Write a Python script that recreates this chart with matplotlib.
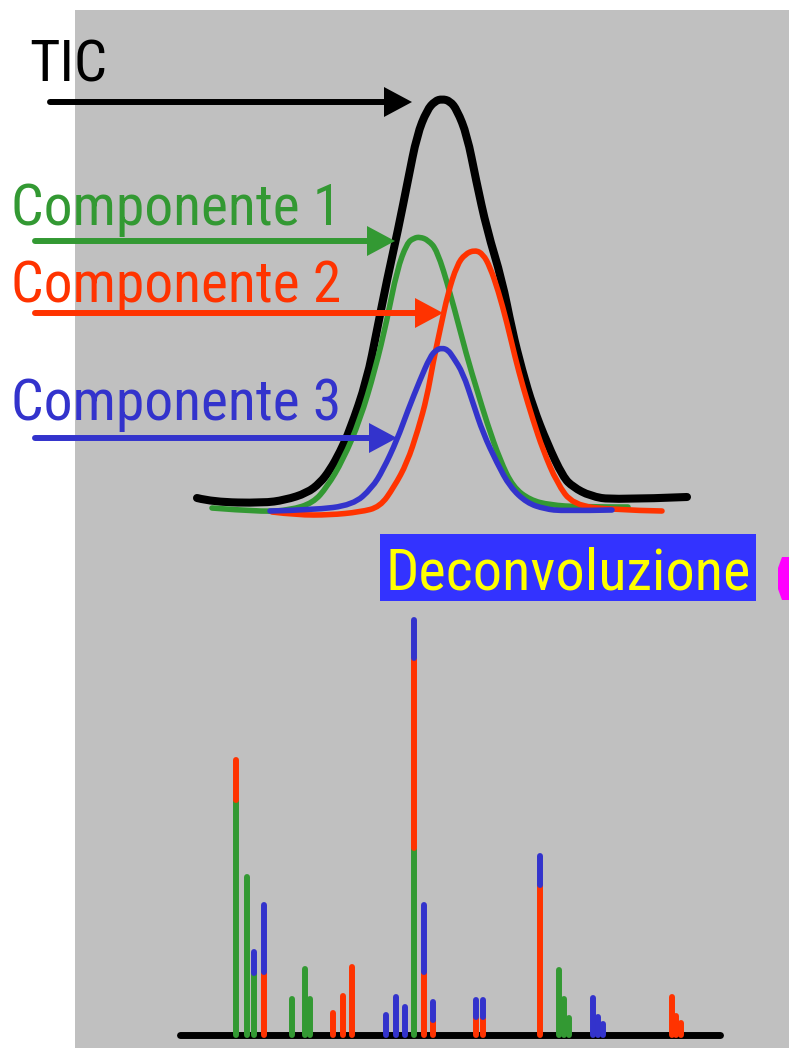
import matplotlib
matplotlib.use("Agg")
import matplotlib.pyplot as plt
from matplotlib.patches import Rectangle, Polygon, PathPatch
from matplotlib.path import Path
from matplotlib import font_manager

# ---------------- data ----------------
# chromatogram (retention time, signal)
t_tic = [197, 213, 263, 285, 307, 320, 330, 340, 350, 367, 377, 387, 398, 408, 417, 427, 435, 442, 450,
         457, 467, 476, 487, 502, 512, 522, 533, 547, 563, 573, 590, 613, 687]
s_tic = [550, 546, 545, 548, 555, 565, 578, 596, 618, 668, 718, 768, 818, 868, 913, 938, 947, 949, 947,
         938, 913, 868, 818, 768, 718, 678, 641, 605, 571, 561, 552, 548, 551]

t_c1 = [212, 263, 290, 313, 327, 343, 360, 375, 387, 397, 407, 414, 420, 428, 437, 450, 467, 477, 487,
        500, 513, 530, 550, 580, 628]
s_c1 = [540, 536, 538, 545, 561, 588, 628, 678, 728, 778, 805, 810, 811, 808, 798, 756, 691, 658, 625,
        588, 561, 548, 543, 541, 541]

t_c2 = [272, 297, 330, 360, 380, 394, 407, 418, 427, 433, 440, 448, 457, 465, 475, 483, 490, 498, 507,
        515, 523, 533, 543, 557, 573, 613, 662]
s_c2 = [536, 533, 533, 536, 541, 561, 585, 618, 651, 685, 718, 755, 783, 794, 798, 794, 781, 758, 725,
        691, 661, 628, 598, 565, 543, 538, 537]

t_c3 = [270, 313, 353, 372, 383, 397, 408, 420, 430, 436, 442, 448, 453, 463, 473, 483, 497, 510, 527,
        545, 563, 612]
s_c3 = [537, 538, 543, 560, 578, 608, 638, 668, 691, 698, 700, 698, 691, 675, 645, 615, 585, 561, 545,
        539, 537, 538]

# deconvoluted mass spectrum (m/z, intensity of each component)
mz = [236, 247, 254, 264, 292, 305, 310, 333, 343, 352, 386, 396, 405, 414, 424, 433, 476, 483,
      540, 559, 564, 569, 593, 598, 603, 672, 676, 681]
c1 = [235, 158, 62, 0, 36, 66, 36, 0, 0, 0, 0, 0, 0, 187, 0, 0, 0, 0,
      0, 65, 36, 17, 0, 0, 0, 0, 0, 0]
c2 = [40, 0, 0, 63, 0, 0, 0, 22, 39, 68, 0, 0, 0, 190, 63, 15, 18, 18,
      150, 0, 0, 0, 0, 0, 0, 38, 19, 12]
c3 = [0, 0, 21, 67, 0, 0, 0, 0, 0, 0, 20, 38, 28, 38, 67, 18, 17, 17,
      29, 0, 0, 0, 37, 18, 11, 0, 0, 0]

labels = ["TIC", "Componente 1", "Componente 2", "Componente 3"]
title_box = "Deconvoluzione"

# ---------------- style ----------------
BLACK = "#000000"
GREEN = "#339933"
RED = "#ff3300"
BLUE = "#3333cc"
BOX = "#3333ff"
YELLOW = "#ffff00"
GRAY = "#c0c0c0"
MAGENTA = "#ff00ff"

avail = {f.name for f in font_manager.fontManager.ttflist}
FAM = [f for f in ["Roboto Condensed", "Liberation Sans Narrow", "Liberation Sans", "DejaVu Sans"]
       if f in avail]

W, H = 789, 1048
fig = plt.figure(figsize=(W / 100, H / 100), dpi=100)
ax = fig.add_axes([0, 0, 1, 1])
ax.set_xlim(0, W)
ax.set_ylim(0, H)
ax.axis("off")


def Y(p):
    return H - p


ax.add_patch(Rectangle((75, 0), W - 75, Y(10), color=GRAY, zorder=0, lw=0))


def smooth_curve(axis, xs, ys, col, lw, z):
    pts = list(zip(xs, ys))
    verts = [pts[0]]
    codes = [Path.MOVETO]
    for i in range(1, len(pts) - 1):
        mid = ((pts[i][0] + pts[i + 1][0]) / 2, (pts[i][1] + pts[i + 1][1]) / 2)
        if i == len(pts) - 2:
            mid = pts[-1]
        verts += [pts[i], mid]
        codes += [Path.CURVE3, Path.CURVE3]
    axis.add_patch(PathPatch(Path(verts, codes), fill=False, edgecolor=col, lw=lw,
                             capstyle="round", joinstyle="round", zorder=z))


smooth_curve(ax, t_tic, s_tic, BLACK, 5.8, 2)
smooth_curve(ax, t_c1, s_c1, GREEN, 4.0, 3)
smooth_curve(ax, t_c2, s_c2, RED, 4.0, 3)
smooth_curve(ax, t_c3, s_c3, BLUE, 4.0, 4)


def arrow(x0, x1, yp, col):
    base = x1 - 28
    ax.plot([x0, base + 2], [Y(yp), Y(yp)], color=col, lw=4.3, solid_capstyle="round", zorder=5)
    ax.add_patch(Polygon([(base, Y(yp - 15)), (x1, Y(yp)), (base, Y(yp + 15))],
                         closed=True, color=col, lw=0, zorder=5))


arrow(50, 412, 102, BLACK)
arrow(35, 395, 241, GREEN)
arrow(35, 443, 313, RED)
arrow(35, 397, 438, BLUE)

ax.text(29, Y(82), labels[0], color=BLACK, fontsize=42, family=FAM, va="baseline", ha="left", zorder=6)
ax.text(11, Y(225), labels[1], color=GREEN, fontsize=41.5, family=FAM, va="baseline", ha="left", zorder=6)
ax.text(11, Y(302), labels[2], color=RED, fontsize=41.5, family=FAM, va="baseline", ha="left", zorder=6)
ax.text(11, Y(420), labels[3], color=BLUE, fontsize=41.5, family=FAM, va="baseline", ha="left", zorder=6)

ax.add_patch(Rectangle((380, Y(601)), 376, 67, color=BOX, lw=0, zorder=6))
ax.text(386, Y(589), title_box, color=YELLOW, fontsize=42, family=FAM, va="baseline", ha="left", zorder=7)

ax.add_patch(Polygon([(778, Y(568)), (782, Y(557)), (789, Y(557)), (789, Y(600)), (782, Y(600)),
                      (778, Y(589))], closed=True, color=MAGENTA, lw=0, zorder=6))

# mass spectrum
ax2 = fig.add_axes([0, 0, 1, 1])
ax2.set_xlim(0, W)
ax2.set_ylim(-(H - 1035), 1035)
ax2.axis("off")
ax2.patch.set_alpha(0)
ax2.plot([180, 720], [0, 0], color=BLACK, lw=5.0, solid_capstyle="round", zorder=1)
for x, a, b, c in zip(mz, c1, c2, c3):
    lo = 0
    for val, col in ((a, GREEN), (b, RED), (c, BLUE)):
        if val > 0:
            ax2.plot([x, x], [lo, lo + val], color=col, lw=4.3, solid_capstyle="round", zorder=2)
            lo += val

fig.savefig("out.png", dpi=100)
